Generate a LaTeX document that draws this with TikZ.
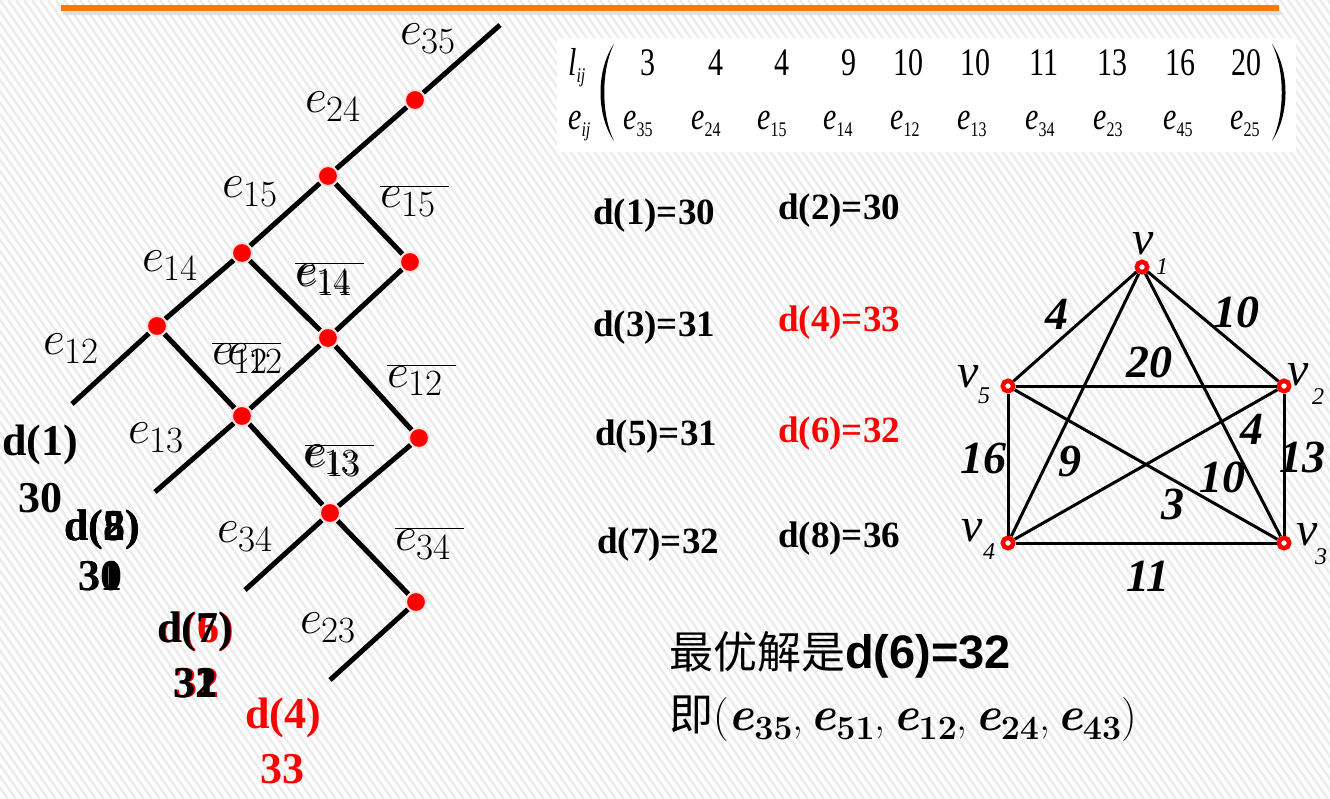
\RequirePackage{fix-cm}
\documentclass[tikz,border=0pt]{standalone}
\usepackage{fontspec}
\usepackage{graphicx}
\setmainfont{Liberation Serif}
\newfontfamily\cjk{Noto Sans CJK SC}
\newfontfamily\sansf{Liberation Sans}
\newfontfamily\lmr{Latin Modern Roman}
\definecolor{orangeline}{RGB}{255,122,0}
\definecolor{stripecol}{RGB}{236,236,236}
\newcommand{\mxe}[1]{\scalebox{1}[1.3]{\itshape e\raisebox{-5pt}{\fontsize{16}{16}\selectfont\upshape #1}}}
\newcommand{\el}[1]{e\hbox{\raisebox{-9pt}{\fontsize{37}{37}\selectfont\lmr #1}}}
\newcommand{\ee}[1]{{\fontsize{48}{48}\selectfont\bfseries\itshape e}\raisebox{-9pt}{\fontsize{34}{34}\selectfont\bfseries #1}}
\newcommand{\soltwo}{{\cjk 即}{\lmr (\ee{35},\,\ee{51},\,\ee{12},\,\ee{24},\,\ee{43})}}
\tikzset{
 lat/.style={line width=5pt, black},
 rdot/.style={circle, fill=red, draw=red!12!white, line width=2pt, minimum size=20pt, inner sep=0pt},
 elab/.style={anchor=base west, inner sep=0pt, font=\fontsize{48}{48}\selectfont},
 dlab/.style={anchor=base, inner sep=0pt, font=\fontsize{44}{44}\selectfont\bfseries},
 dres/.style={anchor=base west, inner sep=0pt, font=\fontsize{37}{37}\selectfont\bfseries},
 mx/.style={anchor=base, inner sep=0pt, font=\fontsize{30}{30}\selectfont},
 vert/.style={circle, draw=red, fill=white, line width=4.5pt, minimum size=10.5pt, inner sep=0pt},
 gedge/.style={line width=3pt, black},
 wlab/.style={inner sep=0pt, font=\fontsize{46}{46}\selectfont\bfseries\itshape},
 vlab/.style={inner sep=0pt, font=\fontsize{48}{48}\selectfont\itshape},
 vsub/.style={inner sep=0pt, font=\fontsize{24}{24}\selectfont\itshape},
}
\begin{document}
\begin{tikzpicture}[x=1pt,y=-1pt]
\useasboundingbox (0,0) rectangle (1330,799);
\fill[white] (0,0) rectangle (1330,799);
\begin{scope}
\clip (0,0) rectangle (1330,799);
\foreach \c in {-600,-592,...,1330} \draw[stripecol, line width=2.5pt] (\c,0) -- ++(560,799);
\end{scope}
\fill[white] (557,38) rectangle (1296,152);
% top rule
\draw[black!12, line width=4pt] (63,13) -- (1281,13);
\draw[orangeline, line width=5.5pt] (61,8) -- (1279,8);

% ---------- lattice ----------
\coordinate (t0) at (500,25);
\coordinate (p1) at (72,404);
\coordinate (p2) at (155,492);
\coordinate (p3) at (245,590);
\coordinate (p4) at (330,680);
\node[rdot] (A) at (415,100) {};
\node[rdot] (B) at (328,176) {};
\node[rdot] (C) at (242,253) {};
\node[rdot] (D) at (410,262) {};
\node[rdot] (E) at (157,326) {};
\node[rdot] (F) at (328,338) {};
\node[rdot] (G) at (242,416) {};
\node[rdot] (H) at (419,438) {};
\node[rdot] (I) at (330,513) {};
\node[rdot] (J) at (416,602) {};
\draw[lat] (t0) -- (A) -- (B) -- (C) -- (E) -- (p1);
\draw[lat] (B) -- (D);
\draw[lat] (D) -- (F) -- (G) -- (p2);
\draw[lat] (C) -- (F) -- (H);
\draw[lat] (E) -- (G) -- (I) -- (J);
\draw[lat] (H) -- (I) -- (p3);
\draw[lat] (J) -- (p4);

% plain labels
\node[elab] (l35) at (400,45) {$\el{35}$};
\node[elab] (l24) at (305,113) {$\el{24}$};
\node[elab] (l15) at (222,198) {$\el{15}$};
\node[elab] (l14) at (142,272) {$\el{14}$};
\node[elab] (l12) at (43,355) {$\el{12}$};
\node[elab] (l13) at (128,443) {$\el{13}$};
\node[elab] (l34) at (217,542) {$\el{34}$};
\node[elab] (l23) at (300,633) {$\el{23}$};
% barred labels
\node[elab] (b15) at (380,208) {$\overline{\el{15}\;}$};
\node[elab] (b14) at (295,285) {$\overline{\el{14}\;}$};
\node[elab] (b14d) at (296,287) {$\el{14}$};
\node[elab] (b12) at (212,365) {$\overline{\el{12}\;}$};
\node[elab] (b12d) at (227,365) {$\el{12}$};
\node[elab] (b12r) at (387,387) {$\overline{\el{12}\;}$};
\node[elab] (b13) at (305,467) {$\overline{\el{13}\;}$};
\node[elab] (b13d) at (303,465) {$\el{13}$};
\node[elab] (b34) at (395,550) {$\overline{\el{34}\;}$};

% d labels at the leaves
\node[dlab] (d1a) at (40,455) {d(1)};
\node[dlab] (d1b) at (40,512) {30};
\node[dlab] (d2a) at (102,540) {d(2)};
\node[dlab] (d5a) at (102,540) {d(5)};
\node[dlab] (d8a) at (102,540) {d(8)};
\node[dlab] (d2b) at (100,590) {30};
\node[dlab] (d5b) at (100,590) {31};
\node[dlab, red] (d6a) at (196,642) {d(6)};
\node[dlab, red] (d6b) at (197,697) {32};
\node[dlab] (d7a) at (195,642) {d(7)};
\node[dlab] (d7b) at (195,697) {32};
\node[dlab] (d3b) at (195,697) {31};
\node[dlab, red] (d4a) at (283,728) {d(4)};
\node[dlab, red] (d4b) at (282,783) {33};

% ---------- matrix ----------
\node[mx, anchor=base west] (lij) at (568,76) {\scalebox{1}[1.3]{\itshape l\raisebox{-5pt}{\fontsize{16}{16}\selectfont ij}}};
\node[mx, anchor=base west] (eij) at (568,130) {\mxe{\itshape ij}};
\fill (614,44) .. controls (596,70) and (596,115) .. (614,141) .. controls (601,115) and (601,70) .. (614,44);
\fill (1272,44) .. controls (1290,70) and (1290,115) .. (1272,141) .. controls (1285,115) and (1285,70) .. (1272,44);
\foreach \x/\v [count=\i] in {648/3,716/4,782/4,849/9,908/10,975/10,1044/11,1112/13,1180/16,1246/20}
  \node[mx] (ln\i) at (\x,76) {\scalebox{1}[1.3]{\v}};
\foreach \x/\v [count=\i] in {638/35,706/24,772/15,838/14,905/12,972/13,1040/34,1108/23,1178/45,1245/25}
  \node[mx] (en\i) at (\x,130) {\mxe{\v}};

% ---------- results list ----------
\node[dres] (r1) at (593,225) {d(1)=30};
\node[dres] (r2) at (778,220) {d(2)=30};
\node[dres] (r3) at (593,337) {d(3)=31};
\node[dres, red] (r4) at (778,332) {d(4)=33};
\node[dres] (r5) at (595,445) {d(5)=31};
\node[dres, red] (r6) at (778,442) {d(6)=32};
\node[dres] (r7) at (597,553) {d(7)=32};
\node[dres] (r8) at (778,547) {d(8)=36};

% ---------- graph ----------
\node[vert] (v1) at (1142,267) {};
\node[vert] (v2) at (1284,386) {};
\node[vert] (v3) at (1284,543) {};
\node[vert] (v4) at (1008,543) {};
\node[vert] (v5) at (1008,386) {};
\draw[gedge] (v1) -- (v5);
\draw[gedge] (v1) -- (v2);
\draw[gedge] (v1) -- (v4);
\draw[gedge] (v1) -- (v3);
\draw[gedge] (v5) -- (v2);
\draw[gedge] (v5) -- (v4);
\draw[gedge] (v5) -- (v3);
\draw[gedge] (v2) -- (v4);
\draw[gedge] (v2) -- (v3);
\draw[gedge] (v4) -- (v3);
\node[wlab] (w15) at (1057,314) {4};
\node[wlab] (w12) at (1236,312) {10};
\node[wlab] (w25) at (1149,362) {20};
\node[wlab] (w45) at (983,458) {16};
\node[wlab] (w14) at (1070,462) {9};
\node[wlab] (w24) at (1252,429) {4};
\node[wlab] (w23) at (1302,457) {13};
\node[wlab] (w13) at (1222,477) {10};
\node[wlab] (w35) at (1173,504) {3};
\node[wlab] (w34) at (1148,576) {11};
\node[vlab] (n1) at (1143,244) {v};
\node[vsub] (s1) at (1162,267) {1};
\node[vlab] (n5) at (968,377) {v};
\node[vsub] (s5) at (984,396) {5};
\node[vlab] (n2) at (1298,375) {v};
\node[vsub] (s2) at (1318,397) {2};
\node[vlab] (n4) at (972,531) {v};
\node[vsub] (s4) at (989,552) {4};
\node[vlab] (n3) at (1307,535) {v};
\node[vsub] (s3) at (1321,557) {3};

% ---------- conclusion ----------
\node[anchor=base west, inner sep=0pt] (sol1) at (669,668) {{\fontsize{44}{44}\selectfont\cjk 最优解是}{\sansf\fontsize{47}{47}\selectfont\bfseries d(6)=32}};
\node[anchor=base west, inner sep=0pt, font=\fontsize{44}{44}\selectfont] (sol2) at (669,730) {\soltwo};
\end{tikzpicture}
\end{document}
